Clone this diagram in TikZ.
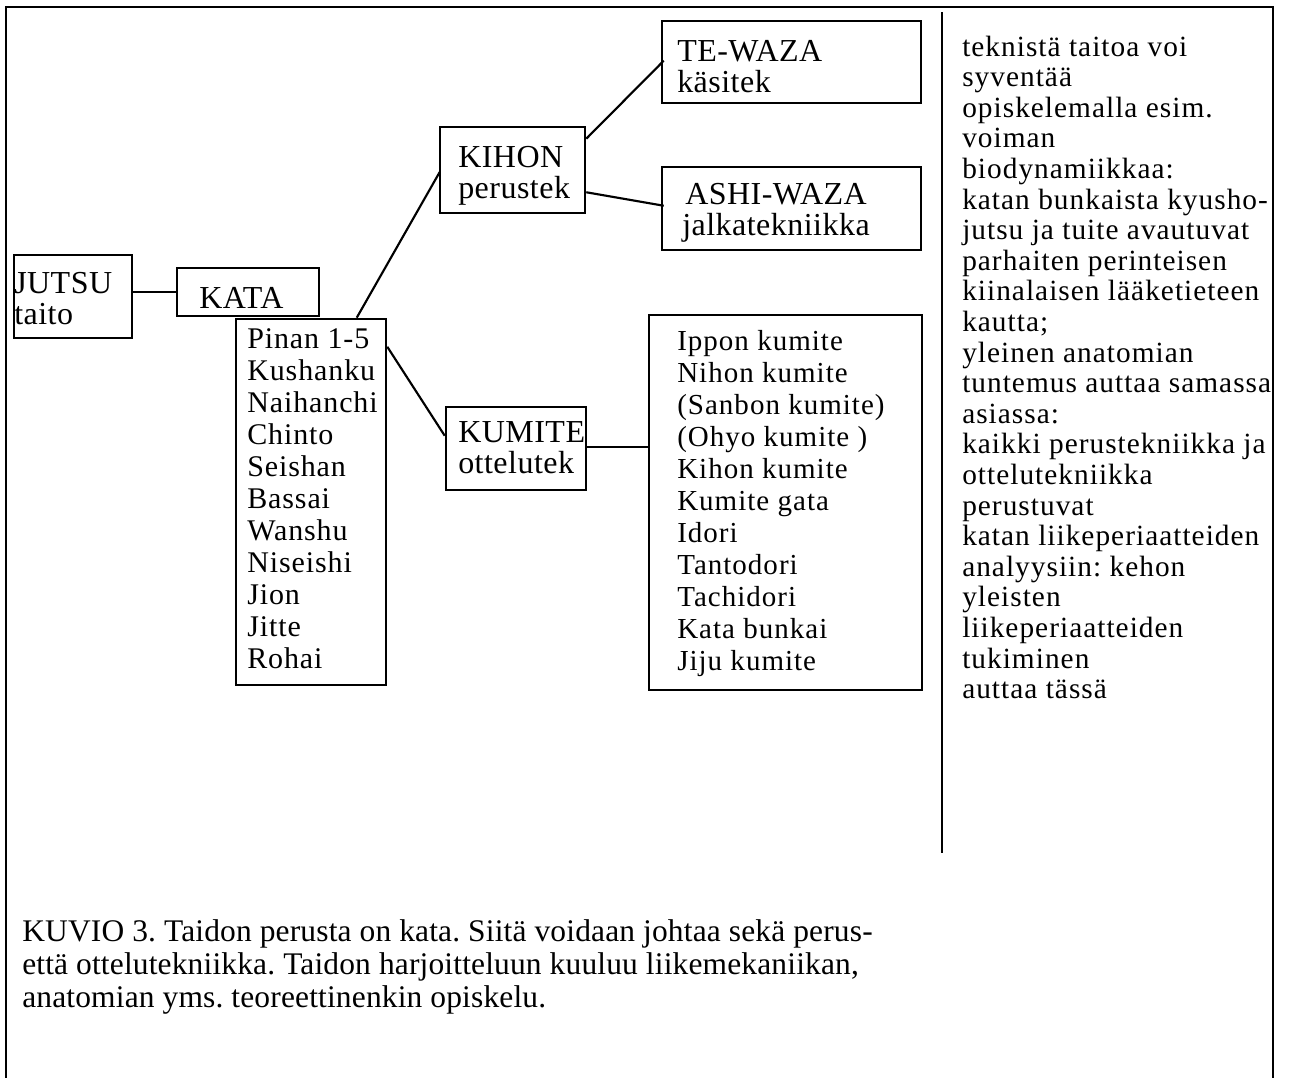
\documentclass[tikz,border=0pt]{standalone}
\usepackage{fontspec}
\setmainfont{Liberation Serif}
\newfontfamily\lsPinan[LetterSpace=3]{Liberation Serif}
\newfontfamily\lsKum[LetterSpace=3.5]{Liberation Serif}
\newfontfamily\lsRight[LetterSpace=3.5]{Liberation Serif}
\newfontfamily\lsLbl[LetterSpace=1.5]{Liberation Serif}
\newfontfamily\lsCap[LetterSpace=0.5]{Liberation Serif}
\usetikzlibrary{fit,calc}
\newcommand\Lb[1]{\hbox{#1}}
\frenchspacing
\tikzset{
  box/.style={draw, line width=1.9pt, inner sep=0pt},
  conn/.style={line width=1.6pt},
  frame/.style={line width=1.9pt},
  lbl/.style={anchor=base west, inner sep=0pt, font=\lsLbl\fontsize{24pt}{23.25pt}\selectfont},
  pinantxt/.style={anchor=base west, inner sep=0pt, font=\lsPinan\fontsize{22.5pt}{24pt}\selectfont},
  kumtxt/.style={anchor=base west, inner sep=0pt, font=\lsKum\fontsize{21.75pt}{24pt}\selectfont},
  righttxt/.style={anchor=base west, inner sep=0pt, font=\lsRight\fontsize{22pt}{22.95pt}\selectfont},
  captxt/.style={anchor=base west, inner sep=0pt, font=\lsCap\fontsize{23.6pt}{25pt}\selectfont},
}
\begin{document}
\begin{tikzpicture}[x=0.75pt,y=-0.75pt]
\frenchspacing
\useasboundingbox (0,0) rectangle (1289,1078);
% outer frame (open at the bottom)
\draw[frame] (6,1078) -- (6,7) -- (1273,7) -- (1273,1078);
% divider
\coordinate (divtop) at (942,12);
\coordinate (divbot) at (942,853);
\draw[frame] (divtop) -- (divbot);

% boxes
\node[box, fit={(14,255)(132,338)}] (jutsu) {};
\node[box, fit={(177,268)(319,316)}] (kata) {};
\node[box, fit={(236,319)(386,685)}] (pinan) {};
\node[box, fit={(440,127)(585,213)}] (kihon) {};
\node[box, fit={(662,21)(921,103)}] (tewaza) {};
\node[box, fit={(662,167)(921,250)}] (ashi) {};
\node[box, fit={(446,407)(586,490)}] (kumite) {};
\node[box, fit={(649,315)(922,690)}] (klist) {};

% texts in boxes
\node[lbl] (tjutsu) at (14,293) {\vtop{\Lb{JUTSU}\Lb{taito}}};
\node[lbl] (tkata) at (199,308) {KATA};
\node[lbl] (tkihon) at (458,167) {\vtop{\Lb{KIHON}\Lb{perustek}}};
\node[lbl] (ttewaza) at (677,61) {\vtop{\Lb{TE-WAZA}\Lb{käsitek}}};
\node[lbl] (tashi1) at (685,204) {ASHI-WAZA};
\node[lbl] (tashi2) at (682,235) {jalkatekniikka};
\node[lbl] (tkumite) at (458,442) {\vtop{\Lb{KUMITE}\Lb{ottelutek}}};
\node[pinantxt] (tpinan) at (247,348) {\vtop{\Lb{Pinan 1-5}\Lb{Kushanku}\Lb{Naihanchi}\Lb{Chinto}\Lb{Seishan}\Lb{Bassai}\Lb{Wanshu}\Lb{Niseishi}\Lb{Jion}\Lb{Jitte}\Lb{Rohai}}};
\node[kumtxt] (tklist) at (677,350) {\vtop{\Lb{Ippon kumite}\Lb{Nihon kumite}\Lb{(Sanbon kumite)}\Lb{(Ohyo kumite )}\Lb{Kihon kumite}\Lb{Kumite gata}\Lb{Idori}\Lb{Tantodori}\Lb{Tachidori}\Lb{Kata bunkai}\Lb{Jiju kumite}}};

% right column
\node[righttxt] (tright) at (962,56) {\vtop{%
\Lb{teknistä taitoa voi}\Lb{syventää}\Lb{opiskelemalla esim.}\Lb{voiman}%
\Lb{biodynamiikkaa:}\Lb{katan bunkaista kyusho-}\Lb{jutsu ja tuite avautuvat}%
\Lb{parhaiten perinteisen}\Lb{kiinalaisen lääketieteen}\Lb{kautta;}%
\Lb{yleinen anatomian}\Lb{tuntemus auttaa samassa}\Lb{asiassa:}%
\Lb{kaikki perustekniikka ja}\Lb{ottelutekniikka}\Lb{perustuvat}%
\Lb{katan liikeperiaatteiden}\Lb{analyysiin: kehon}\Lb{yleisten}%
\Lb{liikeperiaatteiden}\Lb{tukiminen}\Lb{auttaa tässä}}};

% caption
\node[captxt] (caption) at (22,941) {\vtop{%
\Lb{KUVIO 3. Taidon perusta on kata. Siitä voidaan johtaa sekä perus-}%
\Lb{että ottelutekniikka. Taidon harjoitteluun kuuluu liikemekaniikan,}%
\Lb{anatomian yms. teoreettinenkin opiskelu.}}};

% connectors
\draw[conn] (kata.west -| jutsu.east) -- (kata.west);
\draw[conn] ($(pinan.north west)+(122,0)$) -- ($(kihon.west)+(1,2)$);
\draw[conn] ($(kihon.north east)+(0,13)$) -- ($(tewaza.north west)+(3,41)$);
\draw[conn] ($(kihon.south east)+(0,-22)$) -- ($(ashi.north west)+(3,40)$);
\draw[conn] ($(pinan.north east)+(0,29)$) -- ($(kumite.north west)+(0,30)$);
\draw[conn] ($(kumite.east)+(0,-1.5)$) -- ($(kumite.east -| klist.west)+(0,-1.5)$);
\end{tikzpicture}
\end{document}
